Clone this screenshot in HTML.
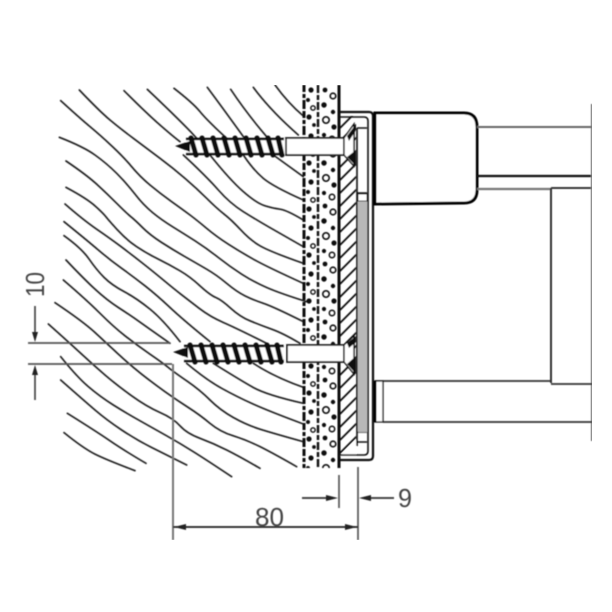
<!DOCTYPE html>
<html><head><meta charset="utf-8"><style>
html,body{margin:0;padding:0;background:#fff}
svg{display:block}
text{font-family:"Liberation Sans",sans-serif;fill:#444}
</style></head><body>
<svg width="612" height="612" viewBox="0 0 612 612" xmlns="http://www.w3.org/2000/svg">
<defs>
<filter id="b" x="0" y="0" width="100%" height="100%"><feGaussianBlur stdDeviation="0.4"/></filter>
<pattern id="hatch" width="13" height="13" patternUnits="userSpaceOnUse"><path d="M-2 15L15 -2M-2 2L2 -2M11 15L15 11" stroke="#111" stroke-width="1.8"/></pattern>
<pattern id="conc1" x="303" y="85" width="15" height="46" patternUnits="userSpaceOnUse">
<circle cx="8" cy="5" r="2.6" fill="#111"/><circle cx="5" cy="15" r="2" fill="#111"/><circle cx="10" cy="23" r="2.2" fill="none" stroke="#111" stroke-width="1.4"/><circle cx="6" cy="32" r="2.6" fill="#111"/><circle cx="11" cy="40" r="1.9" fill="#111"/>
</pattern>
<pattern id="conc2" x="318" y="85" width="21" height="58" patternUnits="userSpaceOnUse">
<circle cx="7" cy="5" r="2.4" fill="#111"/><circle cx="15" cy="11" r="2.8" fill="none" stroke="#111" stroke-width="1.6"/><circle cx="6" cy="20" r="2.7" fill="#111"/><circle cx="15" cy="27" r="2.2" fill="#111"/><circle cx="8" cy="35" r="3.2" fill="none" stroke="#111" stroke-width="1.6"/><circle cx="16" cy="42" r="2.6" fill="#111"/><circle cx="6" cy="50" r="2.1" fill="#111"/><circle cx="14" cy="54" r="2.7" fill="none" stroke="#111" stroke-width="1.5"/>
</pattern>
</defs>
<rect width="612" height="612" fill="#fff"/>
<g filter="url(#b)">
<!-- wood grain -->
<g transform="translate(40,80) scale(.33333)" fill="none" stroke="#222" stroke-width="5" stroke-linejoin="round" stroke-linecap="round">
<path d="M118,30 Q180,95 210,120 T280,175 T360,235 T435,295 T500,355 T552.5,402.5 T602.5,450 T660,497.5 Q690,515 790,550"/>
<path d="M252,32 Q320,100 360,135 Q400,170 420,185"/>
<path d="M430,225 Q500,290 535,330 T610,395 T685,440 Q720,460 790,500"/>
<path d="M322,28 Q440,140 470,175"/>
<path d="M510,225 Q570,300 610,335 T675,377.5 T720,387.5 Q740,390 790,420"/>
<path d="M402,25 Q460,70 480,95 Q500,120 560,175"/>
<path d="M610,225 Q640,270 670,295 Q700,320 790,360"/>
<path d="M502,22 Q560,100 610,170"/>
<path d="M700,225 L790,290"/>
<path d="M572,28 Q620,100 680,170"/>
<path d="M640,22 Q690,90 775,165"/>
<path d="M705,15 Q745,70 790,108"/>
<path d="M62,62 Q120,115 150,140 T215,197.5 T275,260 T330,315 T395,365 T450,405 T500,445 T565,492.5 T640,537.5 Q680,560 790,610"/>
<path d="M58,172 Q130,200 165,225 T230,280 T285,342.5 T337.5,397.5 T397.5,440 T465,482.5 T535,532.5 T605,582.5 T680,622.5 Q720,640 800,665"/>
<path d="M78,243 Q140,285 170,312.5 T230,370 T272.5,410 T307.5,442.5 T365,487.5 T435,530 T500,567.5 T560,610 T615,647.5 T670,670 Q700,680 790,725"/>
<path d="M78,322 Q140,355 165,377.5 T197.5,410 T232.5,450 T290,500 T355,537.5 T420,572.5 T480,617.5 T527.5,652.5 T572.5,685 T630,722.5 T695,747.5 Q730,760 780,790"/>
<path d="M75,372 Q130,420 170,447.5 T240,497.5 T305,547.5 T370,600 T422.5,642.5 T477.5,685 T550,727.5 Q590,745 680,790"/>
<path d="M72,425 Q140,480 175,510 T245,565 T315,617.5 T390,682.5 Q430,720 510,785"/>
<path d="M72,467 Q125,505 147.5,537.5 T192.5,592.5 T252.5,635 T330,687.5 Q370,720 420,785"/>
<path d="M78,540 Q130,595 165,627.5 T235,682.5 T305,730 Q340,755 390,790"/>
<path d="M70,600 Q140,660 180,700 T255,767.5 T330,822.5 T385,862.5 T440,902.5 T510,960 T580,1012.5 T660,1047.5 Q700,1060 790,1085"/>
<path d="M45,668 Q130,725 165,757.5 T235,822.5 T305,882.5 T375,935 T445,982.5 T510,1030 T580,1067.5 T660,1100 Q700,1120 770,1160"/>
<path d="M25,732 Q90,790 125,822.5 T195,885 T275,947.5 T360,997.5 T420,1037.5 T480,1075 T560,1110 Q600,1130 660,1165"/>
<path d="M62,830 Q110,890 145,920 T220,975 T300,1022.5 T380,1067.5 T460,1115 Q500,1140 575,1190"/>
<path d="M62,900 Q130,960 165,990 T245,1050 T335,1102.5 Q380,1125 440,1155"/>
<path d="M82,1000 Q170,1055 210,1082.5 Q250,1110 318,1150"/>
<path d="M72,1058 Q130,1105 165,1122.5 Q200,1140 285,1172"/>
<path d="M640,850 Q700,890 790,922"/>
<path d="M520,850 Q600,900 640,922.5 Q680,945 790,970"/>
<path d="M440,850 Q500,900 545,925 T640,972.5 Q690,995 790,1032"/>
</g>
<!-- wall -->
<rect x="303" y="85" width="15" height="383" fill="url(#conc1)"/>
<rect x="318" y="85" width="21" height="383" fill="url(#conc2)"/>
<g fill="none" stroke="#111">
<line x1="304" y1="85" x2="304" y2="468" stroke-width="3" stroke-dasharray="7 2 4 2 9 2"/>
<line x1="318" y1="85" x2="318" y2="468" stroke-width="2.4" stroke-dasharray="8 2 5 2"/>
<line x1="339" y1="85" x2="339" y2="468" stroke-width="3"/>
</g>
<!-- hatched layer -->
<rect x="340" y="116" width="16" height="340" fill="url(#hatch)"/>
<path d="M340 456L356 440V456Z" fill="#fff"/>
<!-- plate frame -->
<g fill="none" stroke="#111" stroke-width="1.6">
<path d="M340 112H369Q373 112 373 116V456Q373 460 369 460H340" stroke-width="2.2"/>
<path d="M340 117H364Q368 117 368 121V451Q368 455 364 455H340"/>
<line x1="357" y1="128" x2="357" y2="446" stroke-width="1.6"/>
<path d="M357 128H367M357 193H367M357 442H367M357 432H367"/>
</g>
<rect x="358" y="201" width="9" height="231" fill="#b8b8b8"/>
<rect x="358" y="194" width="9" height="7" fill="#fff" stroke="#222"/>
<!-- cap -->
<path d="M375 113L464 113Q477 113 477 127V190Q477 203 464 203L375 204Z" fill="#fff" stroke="#000" stroke-width="3"/>
<g fill="none">
<line x1="477" y1="127" x2="592" y2="127" stroke="#666" stroke-width="2"/>
<line x1="477" y1="176" x2="592" y2="176" stroke="#111" stroke-width="2.2"/>
<line x1="477" y1="189" x2="551" y2="189" stroke="#777" stroke-width="2.2"/>
<line x1="551" y1="188" x2="592" y2="188" stroke="#222" stroke-width="1.8"/>
<line x1="551" y1="188" x2="551" y2="383" stroke="#333" stroke-width="2"/>
<line x1="592" y1="104" x2="592" y2="441" stroke="#777" stroke-width="2.2"/>
<line x1="375" y1="381" x2="551" y2="381" stroke="#333" stroke-width="1.8"/>
<line x1="551" y1="384" x2="592" y2="384" stroke="#333" stroke-width="1.8"/>
<line x1="383" y1="422" x2="592" y2="422" stroke="#333" stroke-width="1.8"/>
</g>
<rect x="374" y="381" width="9" height="41" fill="#fff" stroke="#222" stroke-width="1.4"/>
<line x1="375" y1="381" x2="375" y2="422" stroke="#000" stroke-width="3"/>
<!-- top screw -->
<g>
<rect x="186" y="139" width="99" height="15" fill="#fff"/>
<path d="M175 146L190 141V152Z" fill="#111"/>
<line x1="186" y1="139" x2="284" y2="139" stroke="#111" stroke-width="2.4"/>
<line x1="186" y1="154" x2="284" y2="154" stroke="#111" stroke-width="2.4"/>
<g stroke="#111" stroke-width="5" stroke-linecap="round">
<line x1="191" y1="138" x2="196" y2="155"/><line x1="202" y1="138" x2="207" y2="155"/><line x1="213" y1="138" x2="218" y2="155"/><line x1="224" y1="138" x2="229" y2="155"/><line x1="235" y1="138" x2="240" y2="155"/><line x1="246" y1="138" x2="251" y2="155"/><line x1="257" y1="138" x2="262" y2="155"/><line x1="268" y1="138" x2="273" y2="155"/><line x1="278" y1="138" x2="282" y2="155"/>
</g>
<rect x="286" y="138" width="58" height="17" fill="#fff" stroke="#222" stroke-width="1.8"/>
<path d="M344 138L354 124V166L344 155Z" fill="#fff" stroke="#111" stroke-width="1.4"/>
<path d="M347 136L356 124V130L349 141ZM347 157L356 150V166Z" fill="#111"/>
</g>
<!-- bottom screw -->
<g>
<rect x="184" y="345" width="101" height="16" fill="#fff"/>
<path d="M173 352L188 347V358Z" fill="#111"/>
<line x1="184" y1="346" x2="284" y2="346" stroke="#111" stroke-width="2.4"/>
<line x1="184" y1="361" x2="284" y2="361" stroke="#111" stroke-width="2.4"/>
<g stroke="#111" stroke-width="5" stroke-linecap="round">
<line x1="190" y1="345" x2="195" y2="362"/><line x1="201" y1="345" x2="206" y2="362"/><line x1="212" y1="345" x2="217" y2="362"/><line x1="223" y1="345" x2="228" y2="362"/><line x1="234" y1="345" x2="239" y2="362"/><line x1="245" y1="345" x2="250" y2="362"/><line x1="256" y1="345" x2="261" y2="362"/><line x1="267" y1="345" x2="272" y2="362"/><line x1="277" y1="345" x2="281" y2="362"/>
</g>
<rect x="287" y="345" width="57" height="17" fill="#fff" stroke="#222" stroke-width="1.8"/>
<path d="M344 345L354 336V374L344 362Z" fill="#fff" stroke="#111" stroke-width="1.4"/>
<path d="M347 343L356 336V342L349 348ZM347 364L356 356V374Z" fill="#111"/>
</g>
<!-- dimensions -->
<g fill="none" stroke="#555" stroke-width="1.7">
<line x1="28" y1="343" x2="170" y2="343"/>
<line x1="28" y1="364" x2="172" y2="364"/>
<line x1="173" y1="364" x2="173" y2="540" stroke="#777" stroke-width="2"/>
<line x1="358" y1="467" x2="358" y2="540"/>
<line x1="339" y1="475" x2="339" y2="508"/>
<line x1="35" y1="306" x2="35" y2="335" stroke="#444"/>
<line x1="35" y1="372" x2="35" y2="400" stroke="#444"/>
<line x1="173" y1="527" x2="358" y2="527" stroke="#222"/>
<line x1="302" y1="498" x2="332" y2="498" stroke="#333"/>
<line x1="366" y1="498" x2="394" y2="498" stroke="#333"/>
</g>
<g fill="#222">
<path d="M35 342L32 332H38Z"/><path d="M35 365L32 375H38Z"/>
<path d="M174 527L186 524V530Z"/><path d="M357 527L345 524V530Z"/>
<path d="M338 498L326 495V501Z"/><path d="M359 498L371 495V501Z"/>
</g>
<text x="0" y="0" font-size="26" transform="translate(44,297) rotate(-90)" textLength="25" lengthAdjust="spacingAndGlyphs">10</text>
<text x="255" y="526" font-size="26" textLength="29" lengthAdjust="spacingAndGlyphs">80</text>
<text x="398" y="507" font-size="26" textLength="14" lengthAdjust="spacingAndGlyphs">9</text>
</g>
</svg>
</body></html>
